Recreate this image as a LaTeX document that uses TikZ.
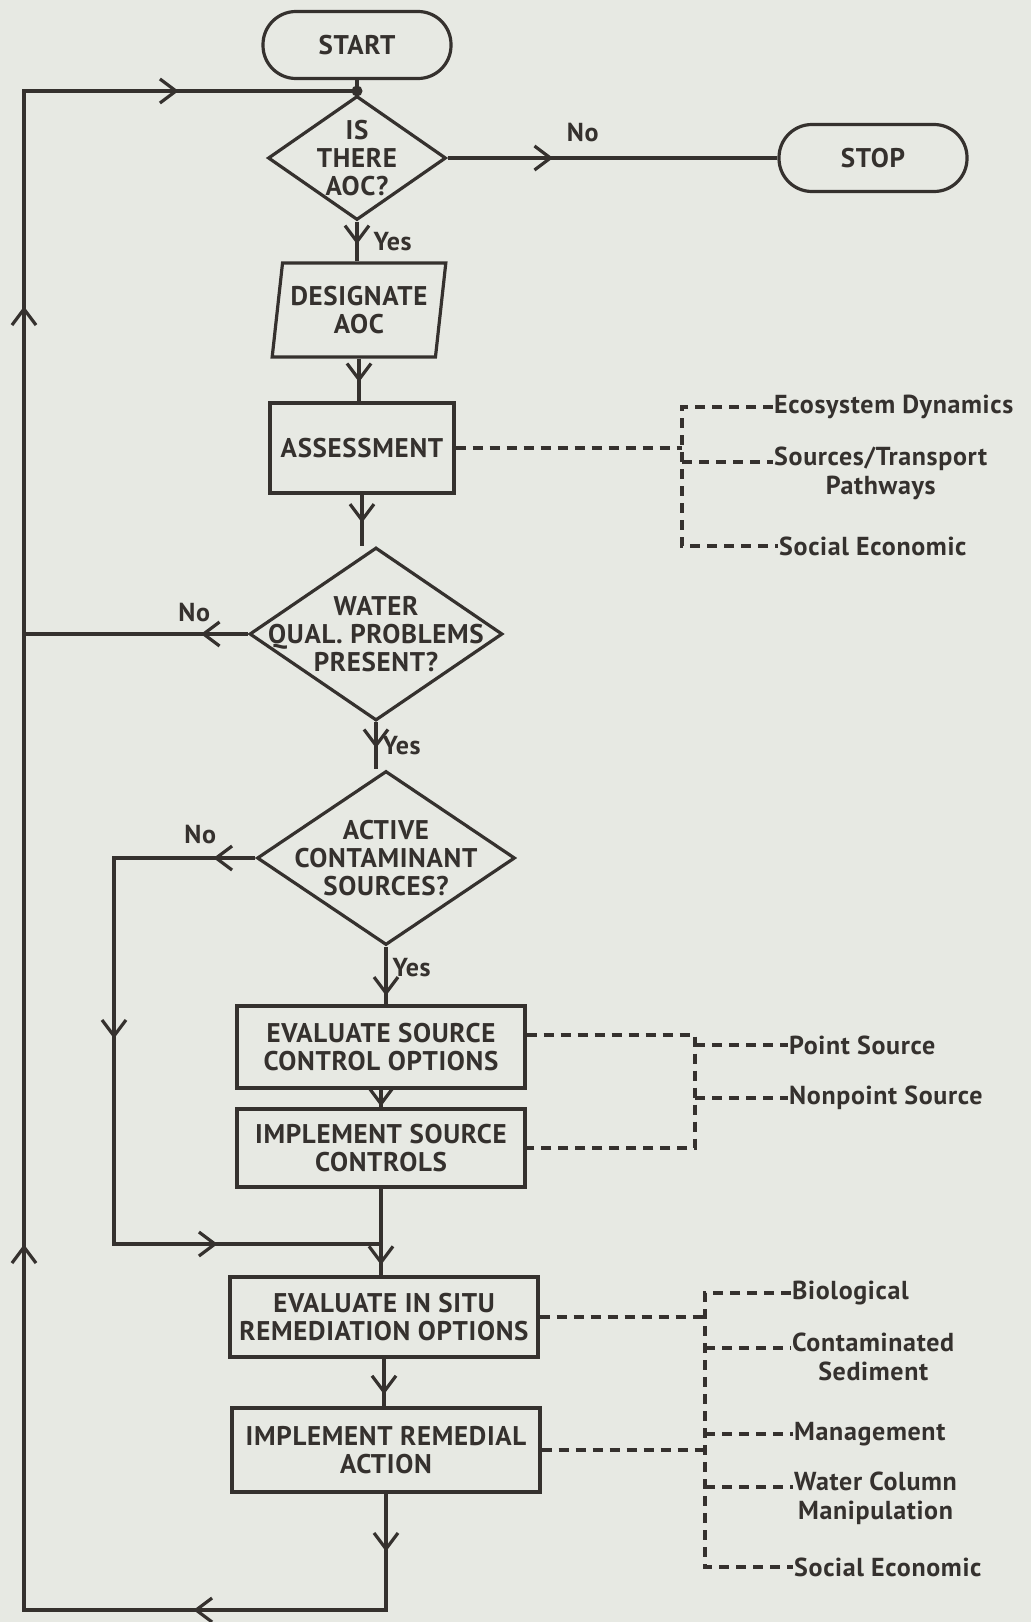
\documentclass[tikz,border=0pt]{standalone}
\usepackage{fontspec}
\newfontfamily\chartfont{PT Sans}[LetterSpace=2.5]
\newcommand\boxfont{\chartfont\bfseries\fontsize{27}{28}\selectfont}
\newcommand\notefont{\chartfont\bfseries\fontsize{26}{29}\selectfont}
\usetikzlibrary{shapes.geometric,arrows.meta,decorations.markings}

\definecolor{paper}{HTML}{E7E9E3}
\definecolor{ink}{HTML}{35312E}

\tikzset{
  flowtip/.tip={Straight Barb[length=16pt,width=24pt,color=ink]},
  line/.style={draw=ink, line width=3.2pt},
  dashline/.style={draw=ink, line width=3.2pt, dash pattern=on 10pt off 7pt},
  tipat/.style={postaction={decorate, decoration={markings, mark=at position #1 with {\arrow{flowtip}}}}},
  terminal/.style={line, rectangle, rounded corners=33pt, minimum width=188pt, minimum height=67pt, font=\boxfont, text=ink},
  process/.style={line, rectangle, align=center, inner sep=1pt, font=\boxfont, text=ink},
  decision/.style={line, diamond, inner sep=0pt},
  dtext/.style={align=center, inner sep=0pt, font=\boxfont, text=ink},
  remark/.style={align=center, inner sep=1pt, font=\notefont, text=ink},
  answer/.style={inner sep=1pt, font=\notefont, text=ink}
}

\begin{document}
\begin{tikzpicture}[x=1pt, y=-1pt]
  \fill[paper] (0,0) rectangle (1031,1622);
  \useasboundingbox (0,0) rectangle (1031,1622);

  \node[terminal] (start) at (357,45) {START};
  \node[terminal] (stop) at (873,158) {STOP};
  \node[decision, minimum width=178pt, minimum height=124pt] (aoc) at (357,158) {};
  \node[dtext] (aoctext) at (aoc) {IS\\THERE\\AOC?};
  \node[line, trapezium, trapezium left angle=79, trapezium right angle=101, trapezium stretches=true,
        minimum width=174pt, minimum height=94pt, inner sep=0pt, align=center, font=\boxfont, text=ink]
        (desig) at (359,310) {DESIGNATE\\AOC};
  \node[process, minimum width=184pt, minimum height=90pt] (assess) at (362,448) {ASSESSMENT};
  \node[decision, minimum width=253pt, minimum height=173pt] (qual) at (376,634) {};
  \node[dtext] (qualtext) at (qual) {WATER\\QUAL. PROBLEMS\\PRESENT?};
  \node[decision, minimum width=258pt, minimum height=174pt] (active) at (386,858) {};
  \node[dtext] (activetext) at (active) {ACTIVE\\CONTAMINANT\\SOURCES?};
  \node[process, minimum width=288pt, minimum height=82pt] (evalsrc) at (381,1047) {EVALUATE SOURCE\\CONTROL OPTIONS};
  \node[process, minimum width=288pt, minimum height=78pt] (implsrc) at (381,1148) {IMPLEMENT SOURCE\\CONTROLS};
  \node[process, minimum width=308pt, minimum height=80pt] (insitu) at (384,1317) {EVALUATE IN SITU\\REMEDIATION OPTIONS};
  \node[process, minimum width=308pt, minimum height=84pt] (remedy) at (386,1450) {IMPLEMENT REMEDIAL\\ACTION};

  \coordinate (join) at (357,91);
  \coordinate (loopbl) at (24,1610);
  \coordinate (looptl) at (24,91);
  \coordinate (bypass) at (114,1244);

  \draw[line] (start) -- (join) -- (aoc.north);
  \fill[ink] (join) circle (5.5pt);
  \draw[line, tipat=0.32] (aoc.east) -- node[answer, above=14pt, pos=0.41] (no1) {No} (aoc.east -| stop.west);
  \draw[line, tipat=0.57] (aoc.south) -- node[answer, right=14pt] (yes1) {Yes} (aoc.south |- desig.north);
  \draw[line, tipat=0.55] (desig.south) -- (desig.south |- assess.north);
  \draw[line, tipat=0.55] (assess.south) -- (assess.south |- qual.north);
  \draw[line, tipat=0.21] (qual.west) -- node[answer, above=10pt, pos=0.24] (no2) {No} (qual.west -| looptl);
  \draw[line, tipat=0.55] (qual.south) -- node[answer, right=4pt] (yes2) {Yes} (qual.south |- active.north);
  \draw[line, tipat=42pt, tipat=322pt, tipat=631pt] (active.west) -- node[answer, above=12pt, pos=0.39] (no3) {No}
        (active.west -| bypass) -- (bypass) -- (bypass -| implsrc.south);
  \draw[line, tipat=0.85] (active.south) -- node[answer, right=4pt, pos=0.37] (yes3) {Yes} (active.south |- evalsrc.north);
  \draw[line, tipat=0.95] (evalsrc.south) -- (evalsrc.south |- implsrc.north);
  \draw[line, tipat=0.88] (implsrc.south) -- (implsrc.south |- insitu.north);
  \draw[line, tipat=0.75] (insitu.south) -- (insitu.south |- remedy.north);
  \draw[line, tipat=58pt, tipat=309pt, tipat=844pt, tipat=1782pt, tipat=2152pt]
        (remedy.south) -- (remedy.south |- loopbl) -- (loopbl) -- (looptl) -- (join);

  \coordinate (trunkA) at (682,0);
  \coordinate (trunkB) at (695,0);
  \coordinate (trunkC) at (705,0);

  \node[remark, anchor=west] (ecodyn) at (773,407) {Ecosystem Dynamics};
  \node[remark, anchor=north west] (srcpath) at (773,446) {Sources/Transport\\Pathways};
  \node[remark, anchor=west] (socecoA) at (778,546) {Social Economic};
  \coordinate (srcline) at ([yshift=-16pt]srcpath.north west);
  \draw[dashline] (ecodyn.west) -- (ecodyn.west -| trunkA) -- (socecoA.west -| trunkA) -- (socecoA.west);
  \draw[dashline] (assess.east) -- (assess.east -| trunkA);
  \draw[dashline] (srcline -| trunkA) -- (srcline);

  \node[remark, anchor=west] (pointsrc) at (788,1045) {Point Source};
  \node[remark, anchor=west] (nonpoint) at (788,1098) {Nonpoint Source};
  \coordinate (evalsrcout) at ([yshift=12pt]evalsrc.east);
  \draw[dashline] (evalsrcout) -- (evalsrcout -| trunkB) -- (implsrc.east -| trunkB) -- (implsrc.east);
  \draw[dashline] (pointsrc.west -| trunkB) -- (pointsrc.west);
  \draw[dashline] (nonpoint.west -| trunkB) -- (nonpoint.west);

  \node[remark, anchor=west] (bio) at (791,1293) {Biological};
  \node[remark, anchor=north west] (contam) at (791,1332) {Contaminated\\Sediment};
  \node[remark, anchor=west] (manage) at (793,1434) {Management};
  \node[remark, anchor=north west] (watercol) at (793,1471) {Water Column\\Manipulation};
  \node[remark, anchor=west] (socecoB) at (793,1567) {Social Economic};
  \coordinate (contamline) at ([yshift=-16pt]contam.north west);
  \coordinate (watercolline) at ([yshift=-16pt]watercol.north west);
  \draw[dashline] (bio.west) -- (bio.west -| trunkC) -- (socecoB.west -| trunkC) -- (socecoB.west);
  \draw[dashline] (insitu.east) -- (insitu.east -| trunkC);
  \draw[dashline] (remedy.east) -- (remedy.east -| trunkC);
  \draw[dashline] (contamline -| trunkC) -- (contamline);
  \draw[dashline] (manage.west -| trunkC) -- (manage.west);
  \draw[dashline] (watercolline -| trunkC) -- (watercolline);
\end{tikzpicture}
\end{document}
